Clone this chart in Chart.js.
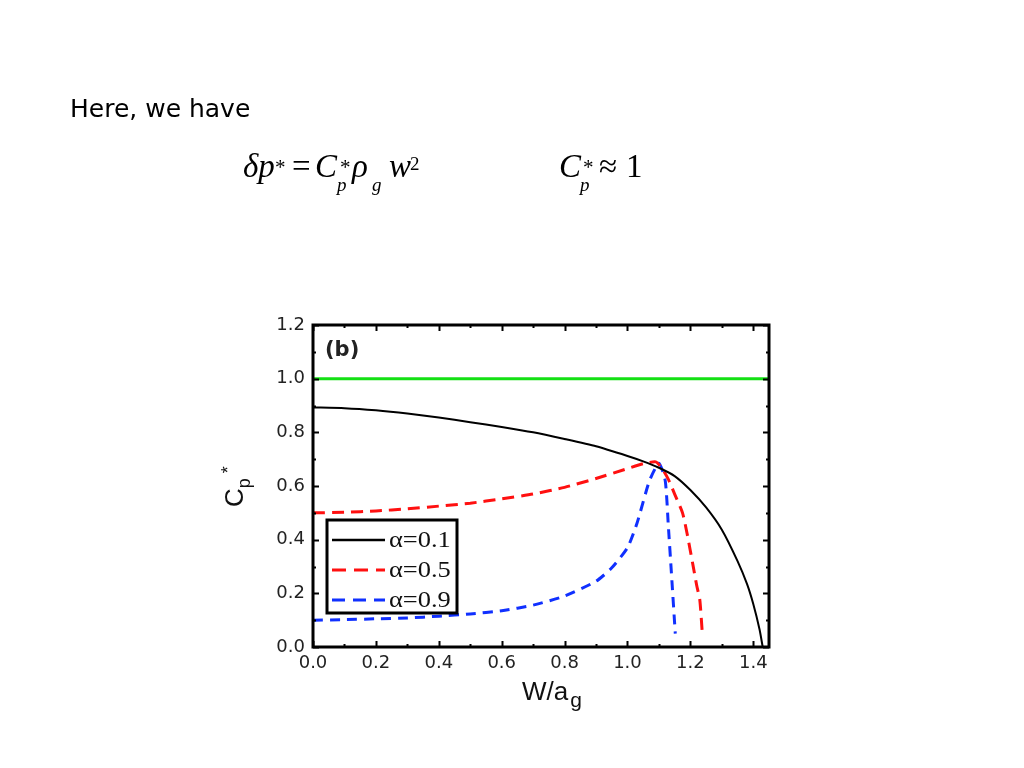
<!DOCTYPE html>
<html><head><meta charset="utf-8">
<script src="https://cdn.jsdelivr.net/npm/chart.js@4"></script>
<style>
html,body{margin:0;padding:0;background:#fff;width:1024px;height:768px;overflow:hidden;}
#wrap{position:relative;width:1024px;height:768px;}
canvas{position:absolute;left:0;top:0;}
.t{position:absolute;white-space:nowrap;line-height:1;color:#000;}
.s{font-family:'Liberation Serif','Times New Roman',serif;}
.i{font-style:italic;}
</style></head><body>
<div id="wrap">
<canvas id="c" width="1024" height="768"></canvas>
<div class="t" style="left:70px;top:96px;font-family:'DejaVu Sans';font-size:25px;">Here, we have</div>
<div class="t s i" style="left:243px;top:150px;font-size:33px;">δp</div>
<div class="t s" style="left:275px;top:157px;font-size:21px;">*</div>
<div class="t s" style="left:292px;top:150px;font-size:33px;">=</div>
<div class="t s i" style="left:315px;top:150px;font-size:33px;">C</div>
<div class="t s" style="left:340px;top:157px;font-size:21px;">*</div>
<div class="t s i" style="left:337px;top:175px;font-size:19px;">p</div>
<div class="t s i" style="left:352px;top:150px;font-size:33px;">ρ</div>
<div class="t s i" style="left:372px;top:175px;font-size:19px;">g</div>
<div class="t s i" style="left:389px;top:150px;font-size:33px;">w</div>
<div class="t s" style="left:410px;top:154px;font-size:19px;">2</div>
<div class="t s i" style="left:559px;top:150px;font-size:33px;">C</div>
<div class="t s" style="left:583px;top:157px;font-size:21px;">*</div>
<div class="t s i" style="left:580px;top:175px;font-size:19px;">p</div>
<div class="t s" style="left:599px;top:150px;font-size:33px;">≈</div>
<div class="t s" style="left:626px;top:150px;font-size:33px;">1</div>
</div>
<script>
// ---- data ----
const xTickValues = [0, 0.2, 0.4, 0.6, 0.8, 1.0, 1.2, 1.4];
const xTickLabels = ['0.0', '0.2', '0.4', '0.6', '0.8', '1.0', '1.2', '1.4'];
const yTickValues = [0, 0.2, 0.4, 0.6, 0.8, 1.0, 1.2];
const yTickLabels = ['0.0', '0.2', '0.4', '0.6', '0.8', '1.0', '1.2'];
const seriesLabels = ['α=0.1', 'α=0.5', 'α=0.9'];
const panelLabel = '(b)';
const xTitle = 'W/a';
const xTitleSub = 'g';
const yTitle = 'C';
const yTitleSub = 'p';
const yTitleSup = '*';

const greenX = [0, 1.45];
const greenY = [1.0, 1.0];

const blackX = [0, 0.1, 0.2, 0.3, 0.4, 0.5, 0.6, 0.7, 0.8, 0.9, 1.0, 1.05, 1.1, 1.15, 1.2, 1.25, 1.3, 1.35, 1.38, 1.4, 1.42, 1.43];
const blackY = [0.893, 0.890, 0.882, 0.870, 0.855, 0.838, 0.820, 0.800, 0.775, 0.748, 0.712, 0.692, 0.668, 0.637, 0.585, 0.520, 0.437, 0.320, 0.235, 0.160, 0.065, 0.0];

const redX = [0, 0.1, 0.2, 0.3, 0.4, 0.5, 0.6, 0.7, 0.8, 0.9, 1.0, 1.05, 1.09, 1.11, 1.13, 1.15, 1.175, 1.19, 1.207, 1.22, 1.23, 1.238];
const redY = [0.50, 0.502, 0.507, 0.515, 0.525, 0.536, 0.552, 0.570, 0.595, 0.628, 0.665, 0.683, 0.690, 0.665, 0.625, 0.570, 0.500, 0.420, 0.313, 0.230, 0.175, 0.05];

const blueX = [0, 0.1, 0.2, 0.3, 0.4, 0.5, 0.6, 0.7, 0.8, 0.9, 0.95, 1.0, 1.03, 1.07, 1.1, 1.12, 1.13, 1.14, 1.152];
const blueY = [0.10, 0.102, 0.105, 0.108, 0.115, 0.123, 0.135, 0.156, 0.190, 0.245, 0.295, 0.370, 0.460, 0.620, 0.685, 0.620, 0.450, 0.270, 0.05];

const pts = (xs, ys) => xs.map((v, i) => ({ x: v, y: ys[i] }));

const colors = { green: '#14e014', black: '#000000', red: '#ff1010', blue: '#1030ff' };

const framePlugin = {
  id: 'frame',
  afterDatasetsDraw(chart) {
    const { ctx, chartArea: a, scales: { x, y } } = chart;
    ctx.save();
    ctx.strokeStyle = '#000';
    ctx.lineWidth = 2;
    ctx.setLineDash([]);
    for (let k = 0; k <= 14; k++) {
      const v = k / 10;
      const len = k % 2 === 0 ? 6 : 3;
      const px = Math.round(x.getPixelForValue(v)) + 0.5;
      ctx.beginPath();
      ctx.moveTo(px, a.bottom); ctx.lineTo(px, a.bottom - len);
      ctx.moveTo(px, a.top); ctx.lineTo(px, a.top + len);
      ctx.stroke();
    }
    for (let k = 0; k <= 12; k++) {
      const v = k / 10;
      const len = k % 2 === 0 ? 6 : 3;
      const py = Math.round(y.getPixelForValue(v)) + 0.5;
      ctx.beginPath();
      ctx.moveTo(a.left, py); ctx.lineTo(a.left + len, py);
      ctx.moveTo(a.right, py); ctx.lineTo(a.right - len, py);
      ctx.stroke();
    }
    ctx.lineWidth = 3;
    ctx.strokeRect(a.left, a.top, a.right - a.left, a.bottom - a.top);

    // panel label
    ctx.fillStyle = '#222';
    ctx.font = 'bold 21px "DejaVu Sans"';
    ctx.textBaseline = 'alphabetic';
    ctx.textAlign = 'left';
    ctx.fillText(panelLabel, a.left + 12, a.top + 31);

    // legend box
    const bx = a.left + 14, by = a.top + 195, bw = 130, bh = 93;
    ctx.fillStyle = '#fff';
    ctx.fillRect(bx, by, bw, bh);
    ctx.lineWidth = 3;
    ctx.strokeStyle = '#000';
    ctx.strokeRect(bx, by, bw, bh);
    const styles = [
      { c: colors.black, w: 2.5, d: [] },
      { c: colors.red, w: 3, d: [14, 8] },
      { c: colors.blue, w: 3, d: [13, 8] }
    ];
    seriesLabels.forEach((lab, i) => {
      const ly = by + 20 + i * 30;
      ctx.beginPath();
      ctx.strokeStyle = styles[i].c;
      ctx.lineWidth = styles[i].w;
      ctx.setLineDash(styles[i].d);
      ctx.moveTo(bx + 5, ly); ctx.lineTo(bx + 58, ly);
      ctx.stroke();
      ctx.setLineDash([]);
      ctx.fillStyle = '#111';
      ctx.font = '23px "Liberation Serif"';
      ctx.save();
      ctx.translate(bx + 62, ly + 7);
      ctx.scale(1.15, 1);
      ctx.fillText(lab, 0, 0);
      ctx.restore();
    });
    ctx.restore();
  },
  afterDraw(chart) {
    const { ctx, chartArea: a } = chart;
    ctx.save();
    ctx.fillStyle = '#111';
    ctx.textAlign = 'left';
    ctx.textBaseline = 'alphabetic';
    // x title
    const sx = a.left + 209;
    ctx.font = '26px "Liberation Sans"';
    const w1 = ctx.measureText(xTitle).width;
    ctx.fillText(xTitle, sx, a.bottom + 53);
    ctx.font = '21px "Liberation Sans"';
    ctx.fillText(xTitleSub, sx + w1 + 2, a.bottom + 60);
    // y title (rotated)
    ctx.translate(a.left - 70, (a.top + a.bottom) / 2 + 21);
    ctx.rotate(-Math.PI / 2);
    ctx.font = '26px "Liberation Sans"';
    const cw = ctx.measureText(yTitle).width;
    ctx.fillText(yTitle, 0, 0);
    ctx.font = '18px "Liberation Sans"';
    ctx.fillText(yTitleSub, cw, 7);
    ctx.fillText(yTitleSup, cw + 15, -9);
    ctx.restore();
  }
};

new Chart(document.getElementById('c'), {
  type: 'scatter',
  data: {
    datasets: [
      { label: 'ref', data: pts(greenX, greenY), showLine: true, borderColor: colors.green, borderWidth: 3, pointRadius: 0 },
      { label: seriesLabels[0], data: pts(blackX, blackY), showLine: true, borderColor: colors.black, borderWidth: 2, pointRadius: 0, tension: 0.2 },
      { label: seriesLabels[1], data: pts(redX, redY), showLine: true, borderColor: colors.red, borderWidth: 3, borderDash: [12, 7], pointRadius: 0, tension: 0.2 },
      { label: seriesLabels[2], data: pts(blueX, blueY), showLine: true, borderColor: colors.blue, borderWidth: 3, borderDash: [10, 7], pointRadius: 0, tension: 0.2 }
    ]
  },
  options: {
    responsive: false,
    animation: false,
    devicePixelRatio: 1,
    layout: { padding: { left: 253, top: 325, right: 255, bottom: 81 } },
    plugins: { legend: { display: false }, tooltip: { enabled: false } },
    scales: {
      x: {
        type: 'linear', min: 0, max: 1.45,
        grid: { display: false, drawTicks: false },
        border: { display: false },
        afterBuildTicks: s => { s.ticks = xTickValues.map(v => ({ value: v })); },
        afterFit: s => { s.height = 40; },
        ticks: { padding: 6, autoSkip: false, maxRotation: 0, color: '#222', font: { family: 'DejaVu Sans', size: 18 }, callback: (v, i) => xTickLabels[i] }
      },
      y: {
        type: 'linear', min: 0, max: 1.2,
        grid: { display: false, drawTicks: false },
        border: { display: false },
        afterBuildTicks: s => { s.ticks = yTickValues.map(v => ({ value: v })); },
        afterFit: s => { s.width = 60; },
        ticks: { padding: 8, autoSkip: false, color: '#222', font: { family: 'DejaVu Sans', size: 18 }, callback: (v, i) => yTickLabels[i] }
      }
    }
  },
  plugins: [framePlugin]
});
</script>
</body></html>
